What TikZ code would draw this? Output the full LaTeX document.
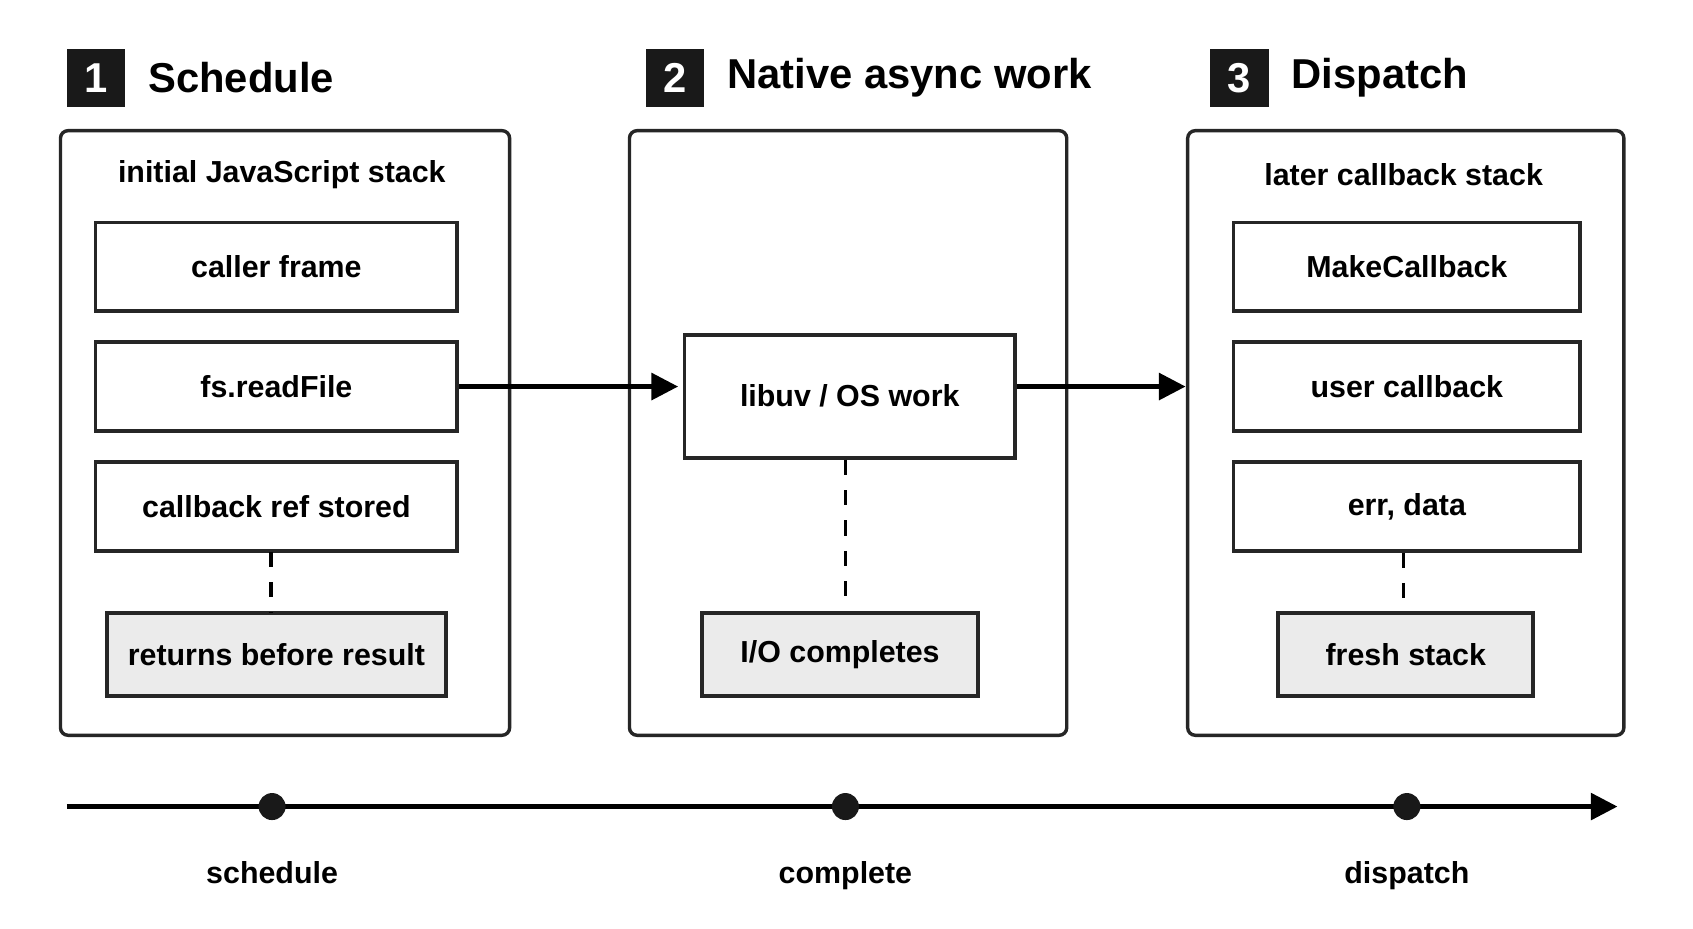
\documentclass[tikz,border=0pt]{standalone}
\usepackage{fontspec}
\setmainfont{Liberation Sans}
\usetikzlibrary{positioning,arrows.meta}
\definecolor{notegray}{HTML}{EBEBEB}
\tikzset{
  panel/.style={draw=black!85, line width=0.9pt, rounded corners=2pt},
  frame/.style={draw=black!85, line width=1pt, minimum height=0.82cm, font=\fontsize{8}{9}\selectfont\bfseries},
  note/.style={frame, fill=notegray, minimum height=0.77cm},
  badge/.style={fill=black!90, text=white, minimum size=0.54cm, font=\fontsize{11}{12}\selectfont\bfseries},
  heading/.style={anchor=west, font=\fontsize{11}{12}\selectfont\bfseries},
  flow/.style={-{Triangle[length=7pt,width=7pt]}, line width=1.1pt},
  link/.style={dashed, line width=0.9pt, dash pattern=on 4pt off 4pt},
  tick/.style={circle, fill=black!90, minimum size=0.25cm, inner sep=0pt},
  label/.style={font=\fontsize{8}{9}\selectfont\bfseries}
}
\begin{document}
\begin{tikzpicture}[x=0.01cm, y=-0.01cm]
	\useasboundingbox (0,0) rectangle (1568,860);
	% headings
	\node[badge] (b1) at (89,72) {1};
	\node[heading] (h1) at (125,72) {Schedule};
	\node[badge] (b2) at (625,72) {2};
	\node[heading] (h2) at (661,72) {Native async work};
	\node[badge] (b3) at (1148,72) {3};
	\node[heading] (h3) at (1184,72) {Dispatch};
	% panels
	\draw[panel] (56,121) rectangle (472,681);
	\draw[panel] (583,121) rectangle (988,681);
	\draw[panel] (1100,121) rectangle (1504,681);
	\node[label] (t1) at (261,162) {initial JavaScript stack};
	\node[label] (t3) at (1300,162) {later callback stack};
	% schedule stack
	\node[frame, minimum width=3.35cm] (caller) at (256,247) {caller frame};
	\node[frame, minimum width=3.35cm] (read) at (256,358) {fs.readFile};
	\node[frame, minimum width=3.35cm] (stored) at (256,469) {callback ref stored};
	\node[note, minimum width=3.14cm] (returns) at (256,606) {returns before result};
	\draw[link] (251,511) -- (251,568);
	% native work
	\node[frame, minimum width=3.06cm, minimum height=1.14cm] (work) at (787,367) {libuv / OS work};
	\node[note, minimum width=2.55cm] (io) at (778,606) {I/O completes};
	\draw[link] (work.south -| 783,0) -- (io.north -| 783,0);
	% dispatch stack
	\node[frame, minimum width=3.21cm] (make) at (1303,247) {MakeCallback};
	\node[frame, minimum width=3.21cm] (user) at (1303,358) {user callback};
	\node[frame, minimum width=3.21cm] (err) at (1303,469) {err, data};
	\node[note, minimum width=2.36cm] (fresh) at (1302,606) {fresh stack};
	\draw[link] (err.south -| 1300,0) -- (fresh.north -| 1300,0);
	% flow
	\draw[flow] (read.east) -- (628,358);
	\draw[flow] (work.east |- 0,358) -- (1098,358);
	% timeline
	\coordinate (start) at (62,747);
	\coordinate (stop) at (1498,747);
	\draw[flow] (start) -- (stop);
	\node[tick] (d1) at (252,747) {};
	\node[tick] (d2) at (783,747) {};
	\node[tick] (d3) at (1303,747) {};
	\node[label, below=0.25cm of d1] {schedule};
	\node[label, below=0.25cm of d2] {complete};
	\node[label, below=0.25cm of d3] {dispatch};
\end{tikzpicture}
\end{document}
